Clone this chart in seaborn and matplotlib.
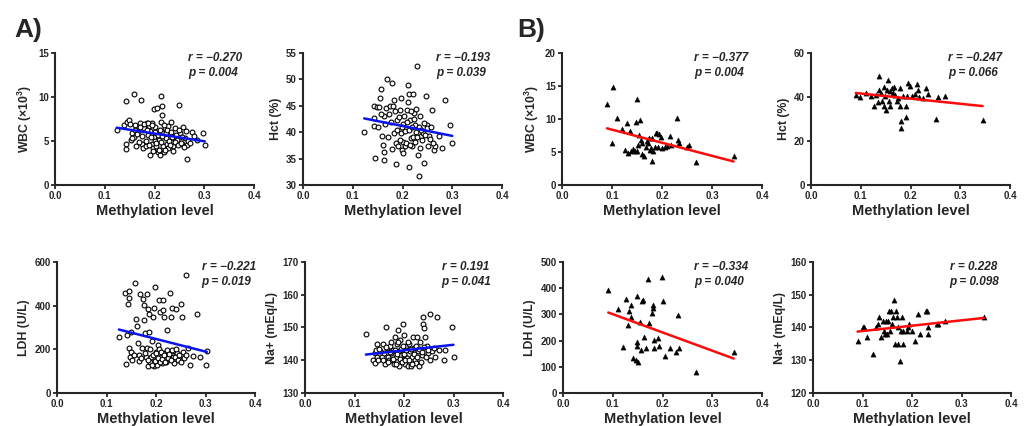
import matplotlib
matplotlib.use("Agg")
import matplotlib.pyplot as plt
import seaborn as sns
import numpy as np
import pandas as pd

sns.set_style("ticks")
plt.rcParams['font.family'] = ['Liberation Sans', 'DejaVu Sans']

# ---------------- data (methylation level, value) ----------------
a_wbc = [(0.124,6.3),(0.139,6.8),(0.144,7.2),(0.148,7.4),(0.143,9.5),(0.143,4.7),(0.143,4.1),
         (0.152,5.1),(0.154,5.9),(0.158,10.3),(0.161,6.8),(0.158,5.5),(0.163,4.4),(0.166,6.1),
         (0.172,9.7),(0.171,7.0),(0.174,4.7),(0.177,4.2),(0.179,6.5),(0.183,4.4),(0.185,7.0),
         (0.186,5.7),(0.188,6.7),(0.190,3.4),(0.191,6.1),(0.195,7.0),(0.195,4.7),(0.197,4.2),
         (0.198,8.6),(0.199,5.5),(0.201,6.6),(0.203,4.4),(0.206,8.7),(0.206,6.1),(0.208,3.8),
         (0.210,5.1),(0.211,3.4),(0.213,10.1),(0.213,7.2),(0.215,7.9),(0.215,9.0),(0.217,5.9),
         (0.218,4.4),(0.219,3.8),(0.221,6.5),(0.223,5.3),(0.225,4.7),(0.227,6.7),(0.228,4.2),
         (0.232,5.9),(0.233,7.2),(0.235,4.9),(0.237,4.4),(0.240,5.5),(0.242,6.5),(0.245,5.1),
         (0.250,9.1),(0.252,5.9),(0.255,4.7),(0.258,6.6),(0.262,5.3),(0.265,3.0),(0.266,4.6),
         (0.275,6.0),(0.285,5.1),(0.297,5.9),(0.301,4.6),
         (0.150,6.9),(0.155,5.3),(0.160,6.2),(0.165,5.8),(0.168,4.9),(0.170,6.6),(0.175,5.6),
         (0.178,6.9),(0.182,5.0),(0.184,6.3),(0.187,7.0),(0.189,4.6),(0.192,5.4),(0.194,6.8),
         (0.196,3.9),(0.200,5.0),(0.202,6.0),(0.204,4.8),(0.207,5.7),(0.209,4.0),(0.212,6.3),
         (0.214,4.9),(0.216,5.6),(0.220,6.8),(0.222,4.0),(0.224,5.9),(0.226,6.2),(0.229,5.0),
         (0.231,4.6),(0.234,6.0),(0.236,5.4),(0.238,3.9),(0.241,4.9),(0.244,5.7),(0.247,4.5),
         (0.249,6.2),(0.253,4.8),(0.256,5.5),(0.260,4.3),(0.263,6.1),(0.268,5.0),(0.272,4.8),
         (0.280,5.6)]

a_hct = [(0.123,40.1),(0.145,35.1),(0.142,41.1),(0.143,42.7),(0.142,44.9),(0.149,44.7),(0.152,44.7),
         (0.155,46.4),(0.157,48.2),(0.159,39.2),(0.161,37.5),(0.162,36.3),(0.162,34.7),(0.163,43.0),
         (0.169,50.1),(0.167,44.6),(0.172,43.4),(0.174,44.9),(0.179,49.4),(0.181,45.0),(0.182,46.1),
         (0.183,39.8),(0.186,37.9),(0.187,33.9),(0.189,42.3),(0.190,37.3),(0.194,44.2),(0.196,46.5),
         (0.197,39.8),(0.198,36.6),(0.200,41.6),(0.202,38.2),(0.205,37.3),(0.209,44.2),(0.211,45.8),
         (0.212,49.0),(0.214,47.2),(0.214,33.5),(0.216,42.3),(0.218,38.9),(0.220,37.3),(0.222,47.2),
         (0.224,43.7),(0.226,41.4),(0.228,44.4),(0.229,52.5),(0.231,35.7),(0.234,31.7),(0.236,43.0),
         (0.237,39.2),(0.241,39.8),(0.244,34.1),(0.247,46.9),(0.249,41.4),(0.251,37.3),(0.253,39.2),
         (0.259,44.2),(0.263,36.6),(0.266,37.3),(0.273,39.2),(0.279,37.0),(0.285,46.1),(0.296,41.4),
         (0.300,38.0),
         (0.150,41.0),(0.156,43.5),(0.165,41.5),(0.170,39.0),(0.176,42.0),(0.178,36.8),(0.184,44.0),
         (0.188,40.5),(0.192,42.8),(0.195,38.5),(0.199,41.0),(0.201,36.0),(0.203,43.0),(0.206,40.2),
         (0.208,38.0),(0.210,42.0),(0.213,40.5),(0.215,37.5),(0.217,44.0),(0.219,41.0),(0.221,39.0),
         (0.223,42.5),(0.225,38.2),(0.227,40.0),(0.230,39.0),(0.233,41.0),(0.235,37.0),(0.238,40.5),
         (0.240,38.5),(0.243,41.8),(0.246,39.5),(0.250,40.8),(0.255,38.8),(0.258,41.0),(0.262,38.0)]

a_ldh = [(0.125,255),(0.140,134),(0.144,406),(0.138,459),(0.145,467),(0.145,433),(0.142,266),
         (0.149,281),(0.145,205),(0.147,167),(0.152,152),(0.157,502),(0.159,337),(0.161,307),
         (0.164,228),(0.166,175),(0.168,453),(0.171,205),(0.173,430),(0.175,403),(0.175,334),
         (0.177,274),(0.179,167),(0.181,205),(0.182,453),(0.183,383),(0.185,362),(0.183,122),
         (0.186,281),(0.188,144),(0.190,167),(0.191,236),(0.193,350),(0.195,122),(0.196,388),
         (0.197,486),(0.200,190),(0.202,152),(0.203,129),(0.205,220),(0.207,426),(0.209,372),
         (0.210,167),(0.212,137),(0.214,426),(0.215,380),(0.217,350),(0.218,182),(0.221,144),
         (0.223,289),(0.224,190),(0.226,167),(0.228,460),(0.230,347),(0.232,388),(0.234,167),
         (0.236,137),(0.237,193),(0.240,383),(0.242,182),(0.248,152),(0.251,407),(0.253,347),
         (0.255,190),(0.257,160),(0.261,540),(0.264,208),(0.268,129),(0.275,170),(0.282,362),
         (0.289,164),(0.300,126),(0.303,193),
         (0.150,190),(0.155,175),(0.165,145),(0.170,160),(0.178,185),(0.184,150),(0.187,200),
         (0.192,130),(0.194,175),(0.198,145),(0.201,185),(0.204,160),(0.206,200),(0.208,140),
         (0.211,190),(0.213,155),(0.216,175),(0.219,140),(0.222,195),(0.225,160),(0.227,180),
         (0.231,150),(0.233,195),(0.238,165),(0.241,200),(0.244,150),(0.246,175),(0.250,140),
         (0.260,175)]

a_na = [(0.123,148.0),(0.138,140.1),(0.142,139.1),(0.142,142.2),(0.144,143.2),(0.145,145.0),
        (0.146,141.1),(0.148,140.1),(0.152,142.7),(0.155,141.1),(0.158,145.0),(0.160,142.2),
        (0.162,138.9),(0.164,150.1),(0.165,143.7),(0.167,141.1),(0.170,140.1),(0.172,144.2),
        (0.173,142.2),(0.175,140.1),(0.177,143.2),(0.180,138.9),(0.182,147.2),(0.184,141.1),
        (0.185,145.0),(0.187,149.2),(0.189,142.7),(0.190,138.1),(0.192,146.2),(0.194,140.1),
        (0.196,143.2),(0.198,151.1),(0.199,141.6),(0.201,147.7),(0.202,138.9),(0.204,144.2),
        (0.207,140.6),(0.209,138.1),(0.211,145.0),(0.212,142.7),(0.215,138.1),(0.216,141.1),
        (0.219,147.2),(0.220,143.7),(0.223,140.1),(0.225,139.1),(0.226,147.2),(0.228,142.7),
        (0.231,138.1),(0.233,145.7),(0.236,141.6),(0.238,153.1),(0.239,151.1),(0.241,149.7),
        (0.243,147.2),(0.246,144.2),(0.249,142.2),(0.252,154.0),(0.253,140.1),(0.256,142.7),
        (0.260,143.7),(0.263,141.1),(0.266,153.1),(0.270,143.0),(0.280,140.1),(0.283,143.0),
        (0.297,150.1),(0.300,141.1),
        (0.150,143.5),(0.157,140.0),(0.163,144.0),(0.168,139.5),(0.171,142.5),(0.174,145.5),
        (0.178,140.5),(0.181,143.0),(0.183,139.0),(0.186,142.0),(0.188,145.5),(0.191,140.5),
        (0.193,143.5),(0.195,139.5),(0.197,144.5),(0.200,142.0),(0.203,140.0),(0.205,143.0),
        (0.208,145.5),(0.210,140.0),(0.214,143.5),(0.217,139.0),(0.221,142.0),(0.224,144.5),
        (0.227,141.0),(0.230,143.5),(0.234,139.5),(0.237,142.5),(0.240,144.0),(0.244,141.0),
        (0.248,143.0)]

b_wbc = [(0.090,12.3),(0.101,14.9),(0.099,6.3),(0.110,10.1),(0.120,8.5),(0.125,5.3),(0.130,9.4),
         (0.132,4.9),(0.135,8.2),(0.137,5.1),(0.141,5.4),(0.145,5.1),(0.147,9.5),(0.149,5.1),
         (0.150,13.1),(0.151,6.0),(0.153,7.6),(0.155,9.9),(0.157,6.8),(0.159,4.7),(0.160,6.3),
         (0.163,4.4),(0.167,5.8),(0.169,6.6),(0.171,6.3),(0.173,7.1),(0.175,5.3),(0.178,5.6),
         (0.180,7.1),(0.180,3.6),(0.182,5.2),(0.185,5.8),(0.187,7.9),(0.190,7.9),(0.191,5.8),
         (0.194,7.8),(0.197,7.2),(0.200,5.6),(0.205,5.8),(0.210,5.9),(0.215,7.4),(0.217,6.1),
         (0.230,10.1),(0.231,6.8),(0.233,6.4),(0.250,5.8),(0.253,6.1),(0.267,3.5),(0.343,4.4)]

b_hct = [(0.090,41.0),(0.099,40.0),(0.111,41.8),(0.121,40.6),(0.126,35.7),(0.131,40.7),(0.134,37.5),
         (0.136,49.7),(0.137,43.3),(0.140,41.8),(0.142,38.0),(0.146,35.7),(0.147,44.5),(0.149,40.3),
         (0.151,33.9),(0.153,43.3),(0.155,47.5),(0.156,38.0),(0.158,42.5),(0.159,36.0),(0.163,44.1),
         (0.165,41.8),(0.166,44.5),(0.169,41.0),(0.173,38.0),(0.175,39.5),(0.178,44.1),(0.179,35.7),
         (0.181,28.9),(0.181,25.8),(0.185,40.3),(0.190,35.7),(0.191,30.7),(0.193,40.3),(0.194,46.3),
         (0.198,45.1),(0.203,40.3),(0.209,41.5),(0.213,46.0),(0.216,43.3),(0.218,40.0),(0.226,39.5),
         (0.231,44.1),(0.235,41.5),(0.251,30.1),(0.256,40.0),(0.270,40.6),(0.345,29.6)]

b_ldh = [(0.091,392),(0.111,319),(0.121,177),(0.126,357),(0.131,259),(0.133,314),(0.136,335),
         (0.136,291),(0.141,135),(0.146,127),(0.148,370),(0.148,196),(0.148,180),(0.151,118),
         (0.155,272),(0.156,165),(0.158,352),(0.161,354),(0.163,213),(0.166,171),(0.171,437),
         (0.173,268),(0.178,304),(0.180,323),(0.181,335),(0.182,203),(0.183,171),(0.190,209),
         (0.192,180),(0.198,443),(0.200,351),(0.205,142),(0.215,171),(0.227,158),(0.232,297),
         (0.234,171),(0.268,80),(0.343,158)]

b_na = [(0.090,136.0),(0.100,140.1),(0.103,140.1),(0.110,137.0),(0.122,132.0),(0.127,140.1),
        (0.131,141.1),(0.134,143.1),(0.137,137.0),(0.141,142.1),(0.143,139.0),(0.145,138.0),
        (0.147,142.1),(0.149,138.0),(0.152,142.1),(0.154,145.1),(0.155,139.0),(0.157,145.1),
        (0.159,141.1),(0.161,143.1),(0.164,148.4),(0.166,135.0),(0.167,145.1),(0.169,143.1),
        (0.171,135.0),(0.172,140.1),(0.176,129.9),(0.177,139.0),(0.179,143.1),(0.181,135.0),
        (0.182,139.0),(0.189,139.0),(0.191,140.1),(0.194,141.1),(0.199,139.0),(0.206,136.0),
        (0.213,144.1),(0.216,138.0),(0.228,145.1),(0.231,145.1),(0.233,140.1),(0.233,138.0),
        (0.250,141.1),(0.253,141.1),(0.267,142.1),(0.345,143.1)]

ylabels = ["WBC ($\\mathregular{\\times}$10$^{\\mathregular{3}}$)", "Hct (%)", "LDH (U/L)", "Na+ (mEq/L)"]
stats_a = [("r = \u22120.270", "p = 0.004"), ("r = \u22120.193", "p = 0.039"),
           ("r = \u22120.221", "p = 0.019"), ("r = 0.191", "p = 0.041")]
stats_b = [("r = \u22120.377", "p = 0.004"), ("r = \u22120.247", "p = 0.066"),
           ("r = \u22120.334", "p = 0.040"), ("r = 0.228", "p = 0.098")]
ylims_a = [(0, 15, 5), (30, 55, 5), (0, 600, 200), (130, 170, 10)]
ylims_b = [(0, 20, 5), (0, 60, 20), (0, 500, 100), (120, 160, 10)]
xticks = [0.0, 0.1, 0.2, 0.3, 0.4]

# ---------------- layout ----------------
W, H = 1025, 426
fig = plt.figure(figsize=(W / 100, H / 100), dpi=100)

def rect(l, r, t, b):
    return [l / W, 1 - b / H, (r - l) / W, (b - t) / H]

rects_a = [rect(55, 254, 53, 185), rect(303, 502, 53, 185),
           rect(57, 255, 262, 393), rect(305, 503, 262, 393)]
rects_b = [rect(562, 762, 53, 185), rect(811, 1010, 53, 185),
           rect(563, 762, 262, 393), rect(813, 1011, 262, 393)]
text_x_a = [0.67, 0.67, 0.73, 0.69]
text_x_b = [0.66, 0.69, 0.66, 0.69]

def panel(r, data, ylab, lims, stats, tx, group):
    ax = fig.add_axes(r)
    df = pd.DataFrame(data, columns=["m", "v"])
    if group == "A":
        sns.scatterplot(data=df, x="m", y="v", ax=ax, marker="o", s=12,
                        facecolor="white", edgecolor="black", linewidth=0.8, zorder=3)
        lc = "#0a14f0"
    else:
        sns.scatterplot(data=df, x="m", y="v", ax=ax, marker="^", s=14,
                        color="black", edgecolor="black", linewidth=0.3, zorder=3)
        lc = "#ff0a0a"
    sns.regplot(data=df, x="m", y="v", ax=ax, scatter=False, ci=None,
                color=lc, line_kws={"lw": 1.8, "zorder": 4})
    lo, hi, st = lims
    ax.set_xlim(0, 0.4)
    ax.set_ylim(lo, hi)
    ax.set_xticks(xticks)
    ax.set_xticklabels([f"{t:.1f}" for t in xticks])
    ax.set_yticks(np.arange(lo, hi + st / 2, st))
    ax.set_yticklabels([f"{int(t)}" for t in np.arange(lo, hi + st / 2, st)])
    for s in ["top", "right"]:
        ax.spines[s].set_visible(False)
    for s in ["left", "bottom"]:
        ax.spines[s].set_linewidth(1.5)
    ax.tick_params(direction="out", length=3, width=1.3, labelsize=7, pad=1.5)
    for lbl in ax.get_xticklabels() + ax.get_yticklabels():
        lbl.set_fontweight("bold")
    ax.set_xlabel("Methylation level", fontsize=10.5, fontweight="bold", labelpad=2)
    ax.set_ylabel(ylab, fontsize=8.8, fontweight="bold", labelpad=3)
    ax.text(tx, 0.96, stats[0], transform=ax.transAxes, fontsize=8.5,
            fontweight="bold", fontstyle="italic", va="center", ha="left")
    ax.text(tx, 0.85, stats[1], transform=ax.transAxes, fontsize=8.5,
            fontweight="bold", fontstyle="italic", va="center", ha="left")
    return ax

for i, d in enumerate([a_wbc, a_hct, a_ldh, a_na]):
    panel(rects_a[i], d, ylabels[i], ylims_a[i], stats_a[i], text_x_a[i], "A")
for i, d in enumerate([b_wbc, b_hct, b_ldh, b_na]):
    panel(rects_b[i], d, ylabels[i], ylims_b[i], stats_b[i], text_x_b[i], "B")

fig.text(14 / W, 1 - 30 / H, "A)", fontsize=19, fontweight="bold", va="center", ha="left")
fig.text(517 / W, 1 - 30 / H, "B)", fontsize=19, fontweight="bold", va="center", ha="left")

fig.savefig("out.png", dpi=100)
